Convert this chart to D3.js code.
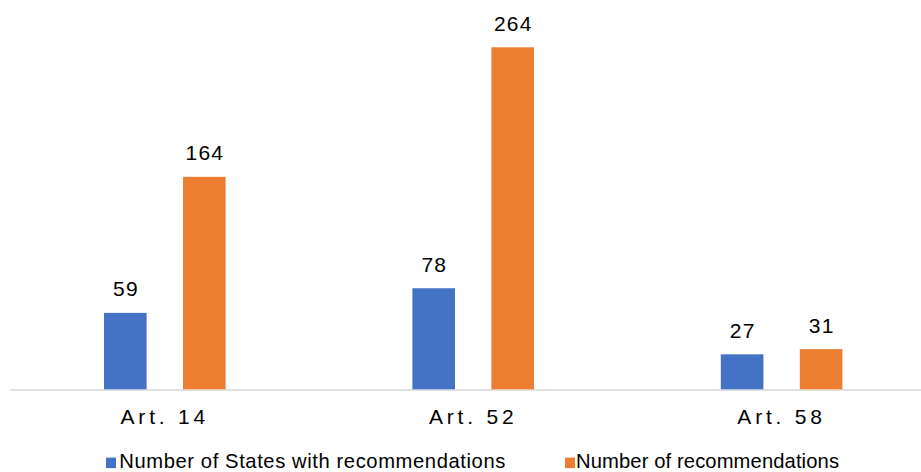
<!DOCTYPE html>
<html>
<head>
<meta charset="utf-8">
<script src="https://cdn.jsdelivr.net/npm/d3@7"></script>
<style>
  html, body { margin: 0; padding: 0; background: #fff; }
  svg { display: block; font-family: "Liberation Sans", Arial, sans-serif; }
</style>
</head>
<body>
<svg id="chart" width="921" height="472"></svg>
<script>
// Recommendations by article
const categories = ["Art. 14", "Art. 52", "Art. 58"];
const seriesNames = ["Number of States with recommendations", "Number of recommendations"];
const statesWithRecs = [59, 78, 27];
const recommendations = [164, 264, 31];
const seriesColors = ["#4472C4", "#ED7D31"];

const svg = d3.select("#chart");
const W = 921, H = 472;

const baseY = 389.3;
const x = d3.scaleBand().domain(categories).range([10.6, 935.8]);
const y = d3.scaleLinear().domain([0, 264]).range([baseY, 47.3]);

const barW = 42.6;
const half = 60.8;

const rows = categories.map((c, i) => ({
  cat: c,
  vals: [statesWithRecs[i], recommendations[i]]
}));

// axis baseline
svg.append("line")
  .attr("x1", 10.6).attr("x2", W)
  .attr("y1", baseY + 0.8).attr("y2", baseY + 0.8)
  .attr("stroke", "#D9D9D9").attr("stroke-width", 1.5);

const groups = svg.selectAll("g.cat").data(rows).join("g")
  .attr("class", "cat")
  .attr("transform", d => `translate(${x(d.cat) + x.bandwidth() / 2},0)`);

const barX = k => (k === 0 ? -half : half - barW);

groups.selectAll("rect").data(d => d.vals.map((v, k) => ({ v, k }))).join("rect")
  .attr("x", d => barX(d.k))
  .attr("width", barW)
  .attr("y", d => y(d.v))
  .attr("height", d => baseY - y(d.v))
  .attr("fill", d => seriesColors[d.k]);

groups.selectAll("text.val").data(d => d.vals.map((v, k) => ({ v, k }))).join("text")
  .attr("class", "val")
  .attr("x", d => barX(d.k) + barW / 2 + 0.6)
  .attr("y", d => y(d.v) - 16.4)
  .attr("text-anchor", "middle")
  .attr("font-size", 21)
  .attr("letter-spacing", 1.2)
  .attr("fill", "#000")
  .text(d => d.v);

// category labels
const xAxis = d3.axisBottom(x).tickSize(0).tickPadding(0);
const axisG = svg.append("g").attr("transform", `translate(0,${baseY})`).call(xAxis);
axisG.select(".domain").remove();
axisG.selectAll("text")
  .attr("dy", null)
  .attr("y", 34.6)
  .attr("font-size", 21)
  .attr("font-family", "Liberation Sans, Arial, sans-serif")
  .attr("letter-spacing", 3.8)
  .attr("fill", "#000");

// legend
const legendItems = [
  { name: seriesNames[0], color: seriesColors[0], sx: 106, tx: 119.3, len: 386 },
  { name: seriesNames[1], color: seriesColors[1], sx: 565, tx: 576, len: 263 }
];
const lg = svg.selectAll("g.legend").data(legendItems).join("g").attr("class", "legend");
lg.append("rect")
  .attr("x", d => d.sx).attr("y", 457.6).attr("width", 10).attr("height", 10.5)
  .attr("fill", d => d.color);
lg.append("text")
  .attr("x", d => d.tx).attr("y", 467.6)
  .attr("font-size", 20.2)
  .attr("textLength", d => d.len)
  .attr("lengthAdjust", "spacing")
  .attr("fill", "#000")
  .text(d => d.name);
</script>
</body>
</html>
